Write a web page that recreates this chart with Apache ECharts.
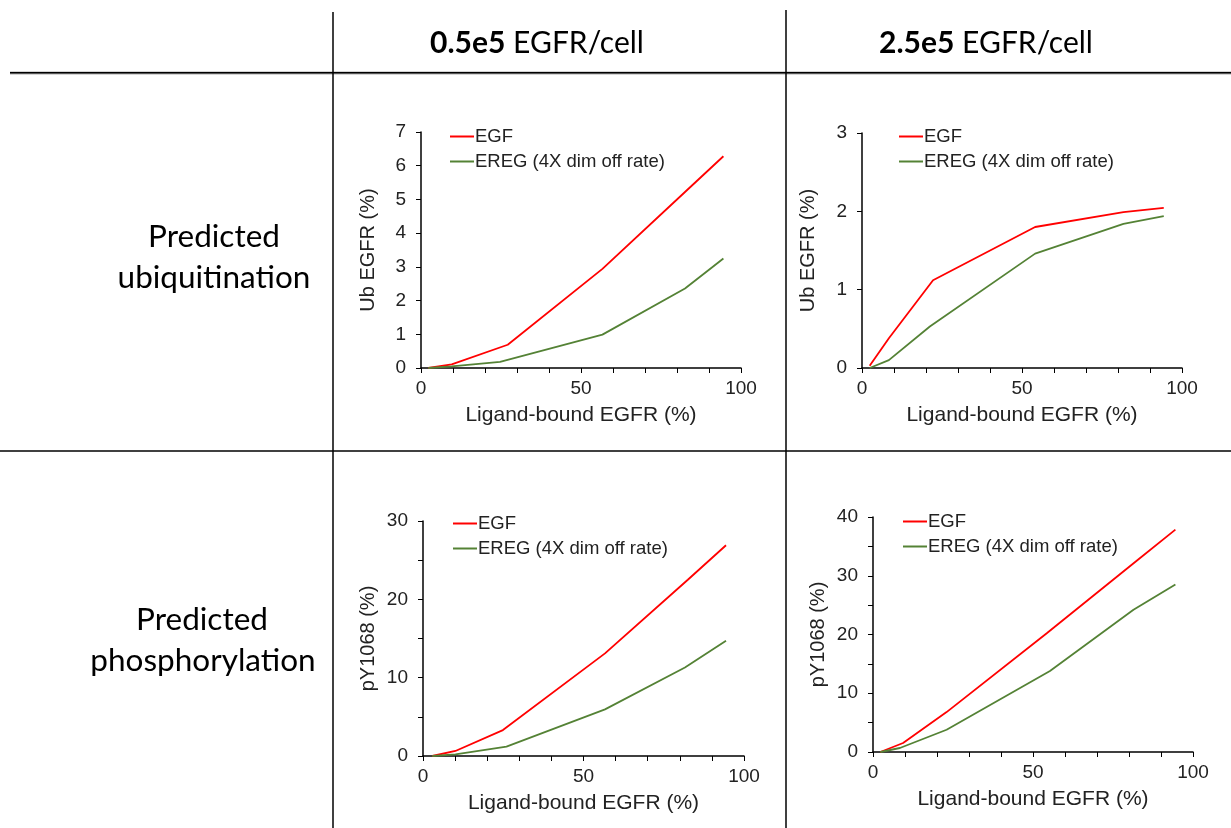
<!DOCTYPE html>
<html><head><meta charset="utf-8">
<script src="https://cdn.jsdelivr.net/npm/echarts@6/dist/echarts.min.js"></script>
<style>html,body{margin:0;padding:0;background:#fff}#c{width:1231px;height:828px}</style>
</head><body><div id="c"></div>
<script>
// ---- Data ----
const columnHeaders = ['0.5e5', '2.5e5'];
const headerSuffix = ' EGFR/cell';
const rowLabels = [['Predicted', 'ubiquitination'], ['Predicted', 'phosphorylation']];
const seriesNames = ['EGF', 'EREG (4X dim off rate)'];
const xAxisName = 'Ligand-bound EGFR (%)';
const yAxisNames = ['Ub EGFR (%)', 'Ub EGFR (%)', 'pY1068 (%)', 'pY1068 (%)'];
const xTickValues = [0, 50, 100];

// Panel 1: ubiquitination, 0.5e5 EGFR/cell
const ub05EgfX  = [2.3, 9.6, 27.1, 56.7, 82.5, 94.5];
const ub05EgfY  = [0, 0.11, 0.69, 2.94, 5.22, 6.28];
const ub05EregX = [2.3, 9.6, 24.7, 56.7, 82.5, 94.5];
const ub05EregY = [0, 0.05, 0.18, 0.99, 2.36, 3.25];
// Panel 2: ubiquitination, 2.5e5 EGFR/cell
const ub25EgfX  = [2.4, 8.4, 22.2, 54.1, 81.7, 94.3];
const ub25EgfY  = [0.03, 0.38, 1.12, 1.80, 1.99, 2.045];
const ub25EregX = [2.4, 8.4, 21.2, 54.1, 81.7, 94.3];
const ub25EregY = [0, 0.10, 0.53, 1.46, 1.84, 1.94];
// Panel 3: phosphorylation, 0.5e5 EGFR/cell
const py05EgfX  = [2.9, 10.1, 24.9, 56.7, 82.5, 94.4];
const py05EgfY  = [0, 0.64, 3.31, 13.1, 22.5, 26.9];
const py05EregX = [2.9, 10.1, 26.0, 56.7, 81.6, 94.4];
const py05EregY = [0, 0.2, 1.19, 5.95, 11.3, 14.7];
// Panel 4: phosphorylation, 2.5e5 EGFR/cell
const py25EgfX  = [2.3, 9.4, 23.0, 54.3, 82.5, 94.5];
const py25EgfY  = [0, 1.53, 6.79, 20.2, 32.6, 37.85];
const py25EregX = [2.3, 8.4, 23.0, 55.3, 81.4, 94.5];
const py25EregY = [0, 0.68, 3.79, 13.8, 24.2, 28.5];

const yMax = [7, 3, 30, 40];
const yInterval = [1, 1, 10, 10];
const yMinorSplit = [0, 0, 2, 2];

// ---- Layout / styles ----
const grids = [
  {left: 421, top: 132, width: 320, height: 236},
  {left: 862, top: 133, width: 320, height: 235},
  {left: 423, top: 521, width: 321, height: 235},
  {left: 873, top: 517, width: 320, height: 235}
];
const legendPos = [
  {left: 450, top: 127}, {left: 899, top: 127},
  {left: 453, top: 514}, {left: 903, top: 512}
];
const yNameGap = [43, 44, 45, 45];
const colors = ['#FF0000', '#548235'];
const chartFont = 'Liberation Sans, Arial, sans-serif';
const tableFont = 'Lato, Open Sans, sans-serif';

const zip = (xs, ys) => xs.map((x, i) => [x, ys[i]]);
const panelData = [
  [zip(ub05EgfX, ub05EgfY), zip(ub05EregX, ub05EregY)],
  [zip(ub25EgfX, ub25EgfY), zip(ub25EregX, ub25EregY)],
  [zip(py05EgfX, py05EgfY), zip(py05EregX, py05EregY)],
  [zip(py25EgfX, py25EgfY), zip(py25EregX, py25EregY)]
];

const axisLine = {show: true, lineStyle: {color: '#000', width: 1.5}};
const xAxes = grids.map((g, i) => ({
  type: 'value', gridIndex: i, min: 0, max: 100, interval: 50,
  name: xAxisName, nameLocation: 'middle', nameGap: 37,
  nameTextStyle: {fontFamily: chartFont, fontSize: 21, color: '#222'},
  axisLine: axisLine,
  axisTick: {show: true, length: 5, lineStyle: {color: '#000', width: 1}},
  minorTick: {show: true, splitNumber: 5, length: 5, lineStyle: {color: '#000', width: 1}},
  splitLine: {show: false},
  axisLabel: {fontFamily: chartFont, fontSize: 19, color: '#222', margin: 11,
    formatter: v => xTickValues.includes(v) ? String(v) : ''}
}));
const yAxes = grids.map((g, i) => ({
  type: 'value', gridIndex: i, min: 0, max: yMax[i], interval: yInterval[i],
  name: yAxisNames[i], nameLocation: 'middle', nameGap: yNameGap[i],
  nameTextStyle: {fontFamily: chartFont, fontSize: 20, color: '#222'},
  axisLine: axisLine,
  axisTick: {show: true, length: 5, lineStyle: {color: '#000', width: 1}},
  minorTick: {show: yMinorSplit[i] > 0, splitNumber: yMinorSplit[i] || 5, length: 5, lineStyle: {color: '#000', width: 1}},
  splitLine: {show: false},
  axisLabel: {fontFamily: chartFont, fontSize: 19, color: '#222', margin: 15}
}));
const series = [];
panelData.forEach((pd, i) => {
  pd.forEach((d, k) => {
    series.push({
      type: 'line', name: seriesNames[k], xAxisIndex: i, yAxisIndex: i,
      data: d, symbol: 'none', showSymbol: false, smooth: false,
      lineStyle: {color: colors[k], width: 1.8}, itemStyle: {color: colors[k]},
      animation: false, z: 3
    });
  });
});
const legends = legendPos.map(p => ({
  data: seriesNames, orient: 'vertical', left: p.left, top: p.top, padding: 0,
  icon: 'rect', itemWidth: 24, itemHeight: 2, itemGap: 6, selectedMode: false,
  textStyle: {fontFamily: chartFont, fontSize: 18.5, color: '#222', padding: [0, 0, 0, -4]}
}));

const L = (x1, y1, x2, y2, w, c) => ({type: 'line', silent: true,
  shape: {x1, y1, x2, y2}, style: {stroke: c || '#000', lineWidth: w || 1.5}});
const headerX = [537, 986];
const graphics = [
  L(10, 73, 1231, 73, 2.5, '#555'),
  L(10, 72.5, 1231, 72.5, 1.2, '#000'),
  L(0, 451, 1231, 451, 1.5),
  L(333, 12, 333, 828, 1.5),
  L(786, 10, 786, 828, 1.5)
];
columnHeaders.forEach((h, i) => {
  graphics.push({type: 'text', silent: true, x: headerX[i], y: 43,
    style: {text: '{b|' + h + '}' + headerSuffix, fontFamily: tableFont, fontSize: 30,
      fill: '#000', align: 'center', verticalAlign: 'middle',
      rich: {b: {fontFamily: tableFont, fontSize: 30, fontWeight: 'bold', fill: '#000'}}}});
});
const rowTextPos = [[[214, 237], [214, 278]], [[202, 620], [203, 661]]];
rowLabels.forEach((lines, r) => {
  lines.forEach((t, j) => {
    graphics.push({type: 'text', silent: true, x: rowTextPos[r][j][0], y: rowTextPos[r][j][1],
      style: {text: t, fontFamily: tableFont, fontSize: 31.5, fill: '#000',
        align: 'center', verticalAlign: 'middle'}});
  });
});

const chart = echarts.init(document.getElementById('c'), null, {renderer: 'canvas'});
chart.setOption({
  backgroundColor: '#fff', animation: false,
  grid: grids, xAxis: xAxes, yAxis: yAxes, series: series, legend: legends,
  graphic: graphics
});
</script></body></html>
